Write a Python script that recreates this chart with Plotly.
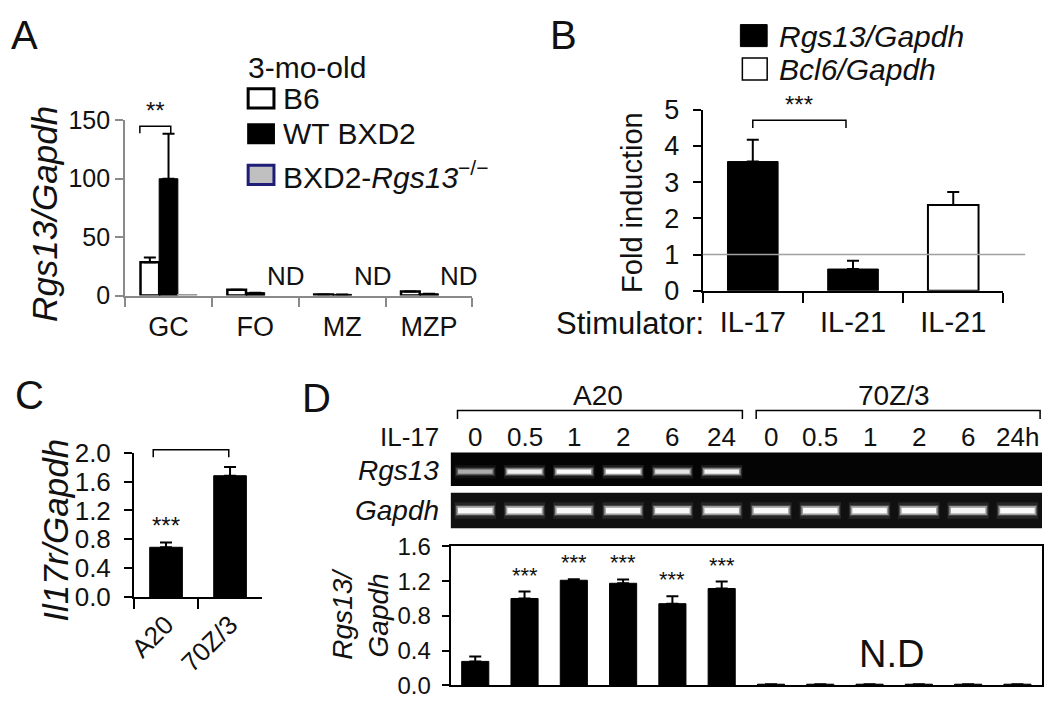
import plotly.graph_objects as go

W, H = 1050, 706


def fx(px):
    return px / W


def fy(py):
    return 1 - py / H


FONT = "Liberation Sans, Arial, Helvetica, sans-serif"
NARROW = "Liberation Sans Narrow, Liberation Sans, Arial, sans-serif"
GREY = "#8a8a8a"
INK = "#111111"

# ---------------- Panel A data ----------------
a_categories = ["GC", "FO", "MZ", "MZP"]
a_b6 = [28.5, 5.0, 1.0, 3.5]
a_b6_err = [4.0, 0.0, 0.0, 0.0]
a_wt = [100.0, 2.5, 1.0, 1.5]
a_wt_err = [38.5, 0.0, 0.0, 0.0]
a_ko = [0.6, None, None, None]
a_nd_index = [1, 2, 3]
a_yticks = [0, 50, 100, 150]
a_bracket_x = [-0.33, 0.026]
a_bracket_y = [139, 145]

# ---------------- Panel B data ----------------
b_categories = ["IL-17", "IL-21", "IL-21\u200b"]
b_rgs13_x = ["IL-17", "IL-21"]
b_rgs13 = [3.57, 0.60]
b_rgs13_err = [0.60, 0.23]
b_bcl6_x = ["IL-21\u200b"]
b_bcl6 = [2.37]
b_bcl6_err = [0.36]
b_yticks = [0, 1, 2, 3, 4, 5]
b_baseline = 1.0
b_bracket_x = [0.0, 0.93]
b_bracket_y = [4.5, 4.71]

# ---------------- Panel C data ----------------
c_categories = ["A20", "70Z/3"]
c_values = [0.69, 1.68]
c_err = [0.066, 0.12]
c_yticks = [0.0, 0.4, 0.8, 1.2, 1.6, 2.0]
c_bracket_x = [-0.2, 0.98]

# ---------------- Panel D data ----------------
d_times = ["0", "0.5", "1", "2", "6", "24", "0", "0.5", "1", "2", "6", "24h"]
d_values = [0.275, 1.00, 1.21, 1.175, 0.94, 1.115, 0.012, 0.012, 0.012, 0.012, 0.012, 0.012]
d_err = [0.055, 0.08, 0.012, 0.045, 0.085, 0.08, 0, 0, 0, 0, 0, 0]
d_sig = ["", "***", "***", "***", "***", "***", "", "", "", "", "", ""]
d_yticks = [0.0, 0.4, 0.8, 1.2, 1.6]
gel_rgs13 = [0.5, 0.85, 0.95, 1.0, 0.78, 0.9, 0, 0, 0, 0, 0, 0]
gel_gapdh = [0.92, 0.92, 0.92, 0.94, 0.92, 0.92, 0.95, 0.95, 0.95, 0.97, 0.9, 0.95]
d_lanes = list(range(len(d_values)))
d_groups = ["A20", "70Z/3"]
d_group_center = [2.5, 8.5]
d_group_span = [[-0.36, 5.42], [5.7, 11.46]]
d_nd_pos = [8.44, 0.36]


def err(arr):
    return dict(type="data", array=arr, arrayminus=[0] * len(arr), symmetric=False,
                color="black", thickness=2, width=6)


fig = go.Figure()

# Panel A bars
fig.add_trace(go.Bar(x=a_categories, y=a_b6, xaxis="x", yaxis="y", width=0.215, offset=-0.3225,
                     marker=dict(color="white", line=dict(color="black", width=2.5)),
                     error_y=err(a_b6_err), showlegend=False))
fig.add_trace(go.Bar(x=a_categories, y=a_wt, xaxis="x", yaxis="y", width=0.215, offset=-0.1075,
                     marker=dict(color="black", line=dict(color="black", width=1)),
                     error_y=err(a_wt_err), showlegend=False))
fig.add_trace(go.Bar(x=a_categories, y=a_ko, xaxis="x", yaxis="y", width=0.215, offset=0.1075,
                     marker=dict(color="#c0c0c0", line=dict(color="#9a9a9a", width=1.5)),
                     showlegend=False))

# Panel B bars
fig.add_trace(go.Bar(x=b_rgs13_x, y=b_rgs13, xaxis="x2", yaxis="y2", width=0.505,
                     marker=dict(color="black", line=dict(color="black", width=1)),
                     error_y=err(b_rgs13_err), showlegend=False))
fig.add_trace(go.Bar(x=b_bcl6_x, y=b_bcl6, xaxis="x2", yaxis="y2", width=0.505,
                     marker=dict(color="white", line=dict(color="black", width=2)),
                     error_y=err(b_bcl6_err), showlegend=False))

# Panel C bars
fig.add_trace(go.Bar(x=c_categories, y=c_values, xaxis="x3", yaxis="y3", width=0.51,
                     marker=dict(color="black", line=dict(color="black", width=1)),
                     error_y=err(c_err), showlegend=False))

# Panel D bars
fig.add_trace(go.Bar(x=d_lanes, y=d_values, xaxis="x4", yaxis="y4", width=0.55,
                     marker=dict(color="black", line=dict(color="black", width=1)),
                     error_y=err(d_err), showlegend=False))


def cat_x(domain, cats, color, tickfont_size, ticklen):
    return dict(domain=domain, type="category", categoryorder="array", categoryarray=cats,
                range=[-0.5, len(cats) - 0.5], showline=True, linecolor=color, linewidth=2,
                ticks="outside", tickson="boundaries", ticklen=ticklen, tickwidth=2, tickcolor=color,
                tickfont=dict(family=FONT, size=tickfont_size, color=INK), showgrid=False,
                zeroline=False, fixedrange=True)


def val_y(domain, rng, tickvals, color, size, fmt=None, standoff=None):
    d = dict(domain=domain, range=rng, tickvals=tickvals, showline=True, linecolor=color,
             linewidth=2, ticks="outside", ticklen=8, tickwidth=2, tickcolor=color,
             tickfont=dict(family=FONT, size=size, color=INK), showgrid=False, zeroline=False,
             fixedrange=True)
    if fmt:
        d["tickformat"] = fmt
    if standoff is not None:
        d["ticklabelstandoff"] = standoff
    return d


layout = dict(
    width=W, height=H, margin=dict(l=0, r=0, t=0, b=0), paper_bgcolor="white",
    plot_bgcolor="rgba(0,0,0,0)", barmode="overlay", showlegend=False,
    font=dict(family=FONT, color=INK),
)
layout["xaxis"] = cat_x([fx(118), fx(468)], a_categories, GREY, 27, 9)
layout["xaxis"]["anchor"] = "y"
layout["xaxis"]["ticklabelstandoff"] = 6
layout["yaxis"] = val_y([fy(293), fy(110)], [0, 150], a_yticks, GREY, 25)
layout["yaxis"]["anchor"] = "x"

layout["xaxis2"] = cat_x([fx(700), fx(1003)], b_categories, "black", 29, 10)
layout["xaxis2"]["anchor"] = "y2"
layout["xaxis2"]["ticklabelstandoff"] = 4
layout["yaxis2"] = val_y([fy(288), fy(99)], [0, 5], b_yticks, "black", 27, standoff=8)
layout["yaxis2"]["anchor"] = "x2"

layout["xaxis3"] = cat_x([fx(127), fx(256)], c_categories, "black", 26, 10)
layout["xaxis3"]["anchor"] = "y3"
layout["xaxis3"]["tickangle"] = -45
layout["yaxis3"] = val_y([fy(608), fy(457)], [0, 2.0], c_yticks, "black", 26, fmt=".1f", standoff=8)
layout["yaxis3"]["anchor"] = "x3"

layout["xaxis4"] = dict(domain=[fx(446), fx(1042)], anchor="y4", range=[-0.5, len(d_values) - 0.5],
                        showline=True, mirror=True, linecolor="black", linewidth=2, ticks="",
                        showticklabels=False, showgrid=False, zeroline=False, fixedrange=True)
layout["yaxis4"] = val_y([fy(700), fy(555)], [0, 1.6], d_yticks, "black", 24, fmt=".1f", standoff=6)
layout["yaxis4"]["anchor"] = "x4"
layout["yaxis4"]["mirror"] = True
layout["yaxis4"]["ticklen"] = 7

fig.update_layout(**layout)

ann = []
shapes = []


def text(x, y, s, size, xanchor="center", yanchor="middle", xref="paper", yref="paper",
         angle=0, family=FONT, color=INK, **kw):
    ann.append(dict(x=x, y=y, text=s, xref=xref, yref=yref, xanchor=xanchor, yanchor=yanchor,
                    textangle=angle, showarrow=False, font=dict(family=family, size=size, color=color),
                    **kw))


def rect(x0, y0, x1, y1, fill, line_color=None, lw=0, xref="paper", yref="paper"):
    shapes.append(dict(type="rect", x0=x0, y0=y0, x1=x1, y1=y1, xref=xref, yref=yref,
                       fillcolor=fill, line=dict(color=line_color or fill, width=lw), layer="above"))


def bracket(xs, y_end, y_top, xref, yref, color="black", lw=1.5):
    path = f"M {xs[0]},{y_end} L {xs[0]},{y_top} L {xs[1]},{y_top} L {xs[1]},{y_end}"
    shapes.append(dict(type="path", path=path, xref=xref, yref=yref,
                       line=dict(color=color, width=lw), layer="above"))


# Panel letters
text(fx(17), fy(21), "A", 40)
text(fx(560), fy(21), "B", 40)
text(fx(22), fy(397), "C", 40)
text(fx(311), fy(400), "D", 40)

# Panel A legend
text(fx(240), fy(55), "3-mo-old", 30, xanchor="left")
rect(fx(242), fy(97), fx(268), fy(77), "white", "black", 3)
text(fx(275), fy(87), "B6", 30, xanchor="left")
rect(fx(242), fy(134), fx(268), fy(114), "black", "black", 2)
text(fx(275), fy(124), "WT BXD2", 30, xanchor="left")
rect(fx(242), fy(177), fx(268), fy(157), "#c0c0c0", "#1e1e78", 3)
text(fx(275), fy(167), "BXD2-<i>Rgs13</i><sup>\u2212/\u2212</sup>", 30, xanchor="left")

# Panel A titles / annotations
text(fx(36), fy(208), "<i>Rgs13/Gapdh</i>", 35, angle=-90)
bracket(a_bracket_x, a_bracket_y[0], a_bracket_y[1], "x", "y")
text(sum(a_bracket_x) / 2, a_bracket_y[1], "**", 24, xref="x", yref="y", yanchor="bottom")
for i in a_nd_index:
    text(i + 0.35, 17, "ND", 26, xref="x", yref="y")

# Panel B legend
rect(fx(738), fy(33), fx(765), fy(10), "black", "black", 1)
text(fx(775), fy(22), "<i>Rgs13/Gapdh</i>", 30, xanchor="left")
rect(fx(740), fy(68), fx(765), fy(45), "white", "black", 1.5)
text(fx(775), fy(57), "<i>Bcl6/Gapdh</i>", 30, xanchor="left")

# Panel B titles / annotations
text(fx(628), fy(196), "Fold induction", 29, angle=-90)
text(fx(703), fy(322), "Stimulator:", 31, xanchor="right")
shapes.append(dict(type="line", xref="x2 domain", yref="y2", x0=0, x1=(1025 - 700) / 303,
                   y0=b_baseline, y1=b_baseline, line=dict(color="#a0a0a0", width=1.5), layer="above"))
bracket(b_bracket_x, b_bracket_y[0], b_bracket_y[1], "x2", "y2")
text(sum(b_bracket_x) / 2, b_bracket_y[1], "***", 24, xref="x2", yref="y2", yanchor="bottom")

# Panel C titles / annotations
text(fx(47), fy(538), "<i>Il17r/Gapdh</i>", 35, angle=-90)
bracket(c_bracket_x, 0.967, 1.02, "x3", "y3 domain")
text(0, c_values[0] + c_err[0], "***", 24, xref="x3", yref="y3", yanchor="bottom", yshift=2)

# Panel D gels
rect(-0.5, fy(492), len(d_values) - 0.5, fy(457), "#040404", xref="x4")
rect(-0.5, fy(536), len(d_values) - 0.5, fy(499), "#101010", xref="x4")


def band(lane, yc, v, core_h, glow_h):
    if v <= 0:
        return
    rect(lane - 0.42, fy(yc + glow_h), lane + 0.42, fy(yc - glow_h), f"rgba(255,255,255,{0.10 * v:.3f})", xref="x4")
    rect(lane - 0.40, fy(yc + glow_h * 0.65), lane + 0.40, fy(yc - glow_h * 0.65), f"rgba(255,255,255,{0.22 * v:.3f})", xref="x4")
    rect(lane - 0.38, fy(yc + core_h * 1.6), lane + 0.38, fy(yc - core_h * 1.6), f"rgba(255,255,255,{0.45 * v:.3f})", xref="x4")
    rect(lane - 0.35, fy(yc + core_h), lane + 0.35, fy(yc - core_h), f"rgba(255,255,255,{v:.3f})", xref="x4")


for lane, v in zip(d_lanes, gel_rgs13):
    band(lane, 477, v, 2.2, 7)
for lane, v in zip(d_lanes, gel_gapdh):
    band(lane, 517.5, v, 3.0, 8.5)

text(fx(436), fy(441), "IL-17", 26, xanchor="right")
text(fx(436), fy(476), "<i>Rgs13</i>", 28, xanchor="right")
text(fx(436), fy(517), "<i>Gapdh</i>", 28, xanchor="right")
for lane, t in zip(d_lanes, d_times):
    text(lane, fy(441), t, 26, xref="x4")
for g, c, span in zip(d_groups, d_group_center, d_group_span):
    text(c, fy(397), g, 28, xref="x4")
    bracket(span, fy(422), fy(413), "x4", "paper")

# Panel D chart annotations
text(fx(355), fy(625), "<i>Rgs13/</i><br><i>Gapdh</i>", 28, angle=-90)
for lane, v, e, s in zip(d_lanes, d_values, d_err, d_sig):
    if s:
        text(lane, v + e, s, 22, xref="x4", yref="y4", yanchor="bottom", yshift=2)
text(d_nd_pos[0], d_nd_pos[1], "N.D", 38, xref="x4", yref="y4", family=NARROW)

fig.update_layout(annotations=ann, shapes=shapes)
fig.write_html("out.html", config={"displayModeBar": False},
               post_script="document.body.style.margin='0px';")
